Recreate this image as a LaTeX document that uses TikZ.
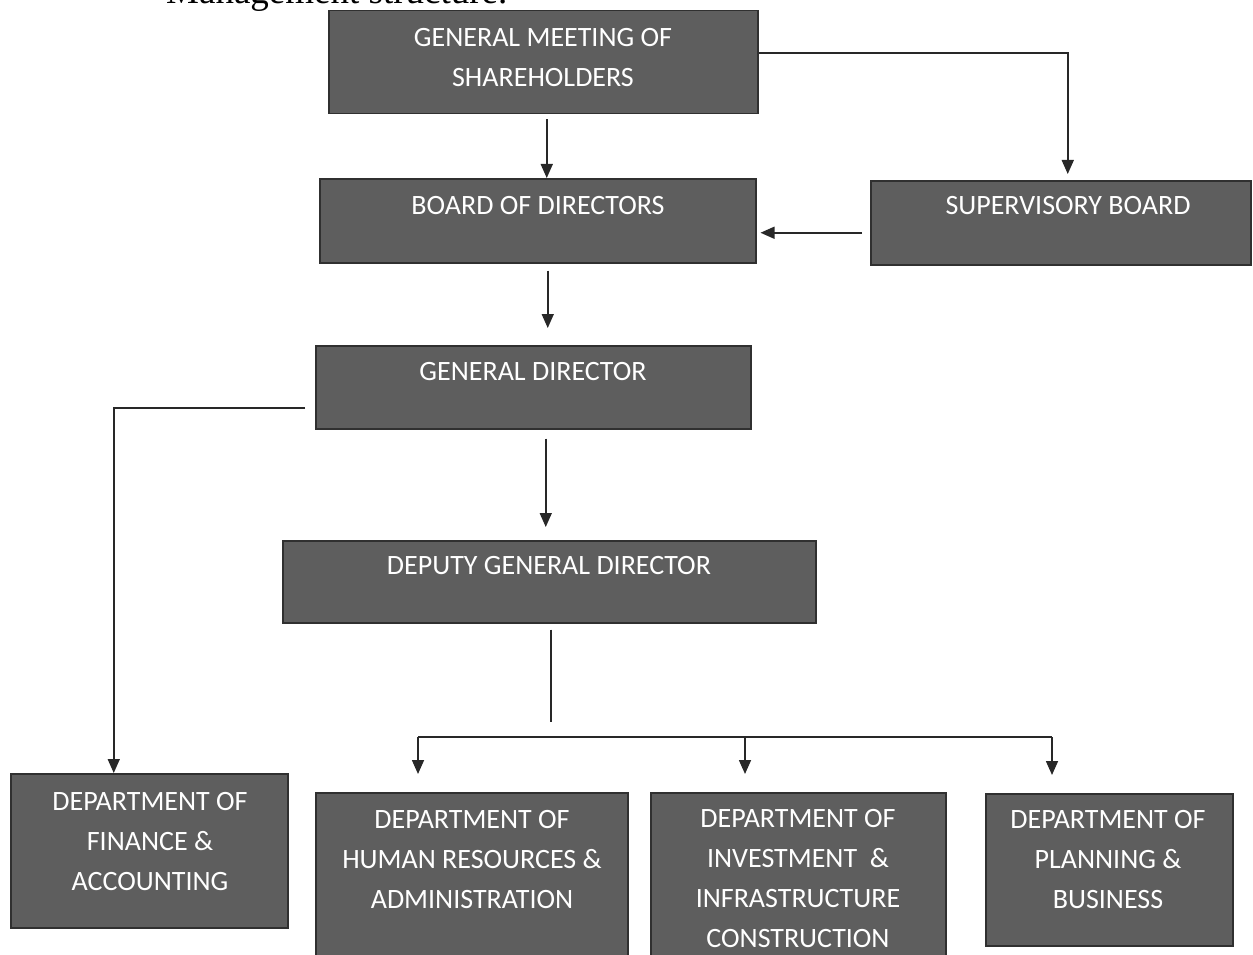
\documentclass[tikz,border=0pt]{standalone}
\usepackage{fontspec}
\setmainfont{Carlito}
\newfontfamily\titlefont{Liberation Serif}
\usetikzlibrary{arrows.meta,calc}
\definecolor{boxfill}{RGB}{94,94,94}
\definecolor{boxline}{RGB}{48,48,48}
\definecolor{lnc}{RGB}{40,40,40}
\begin{document}
\begin{tikzpicture}[x=1pt,y=-1pt,
  box/.style={draw=boxline,line width=1.5pt,fill=boxfill,inner sep=0pt,anchor=north west},
  txt/.style={text=white,font=\fontsize{28}{40}\selectfont,align=center,inner sep=0pt},
  ln/.style={draw=lnc,line width=1.6pt},
  arr/.style={ln,-{Triangle[width=12pt,length=14pt]}}]
\useasboundingbox[fill=white] (0,0) rectangle (1253,955);
% title (cut at the top edge)
\begin{scope}
\clip (0,0) rectangle (1253,955);
\node[anchor=base west,font=\titlefont\fontsize{37}{42}\selectfont,inner sep=0pt] (title) at (166,4) {Management structure.};
% boxes
\node[box,minimum width=429pt,minimum height=103pt] (gms) at (328,10) {};
\node[box,minimum width=380pt,minimum height=84pt] (sb) at (870,180) {};
\node[box,minimum width=436pt,minimum height=84pt] (bod) at (319,178) {};
\node[box,minimum width=435pt,minimum height=83pt] (gd) at (315,345) {};
\node[box,minimum width=533pt,minimum height=82pt] (dgd) at (282,540) {};
\node[box,minimum width=277pt,minimum height=154pt] (fin) at (10,773) {};
\node[box,minimum width=312pt,minimum height=170pt] (hr) at (315,792) {};
\node[box,minimum width=295pt,minimum height=170pt] (inv) at (650,792) {};
\node[box,minimum width=247pt,minimum height=152pt] (plan) at (985,793) {};
% texts
\node[txt] (gmst) at (543,57.5) {GENERAL MEETING OF\\SHAREHOLDERS};
\node[txt] (sbt) at (1068,206) {SUPERVISORY BOARD};
\node[txt] (bodt) at (538,206) {BOARD OF DIRECTORS};
\node[txt] (gdt) at (533,372) {GENERAL DIRECTOR};
\node[txt] (dgdt) at (549,566) {DEPUTY GENERAL DIRECTOR};
\node[txt] (fint) at (150,842) {DEPARTMENT OF\\FINANCE \&\\ACCOUNTING};
\node[txt] (hrt) at (472,860) {DEPARTMENT OF\\HUMAN RESOURCES \&\\ADMINISTRATION};
\node[txt] (invt) at (798,879) {DEPARTMENT OF\\INVESTMENT\ \ \&\\INFRASTRUCTURE\\CONSTRUCTION};
\node[txt] (plant) at (1108,860) {DEPARTMENT OF\\PLANNING \&\\BUSINESS};
\end{scope}
% connectors
\draw[arr] ([xshift=3.5pt,yshift=-5pt]gms.south) -- ([xshift=9pt]bod.north);
\draw[arr,shorten >=6pt] ([yshift=9.5pt]gms.east) -| ([xshift=7pt]sb.north);
\draw[arr] ([xshift=-8pt,yshift=-10pt]sb.west) -- ([xshift=4pt,yshift=-12pt]bod.east);
\draw[arr] ([xshift=10pt,yshift=-7pt]bod.south) -- ([xshift=14.5pt,yshift=17pt]gd.north);
\draw[arr] ([xshift=12.5pt,yshift=-9pt]gd.south) -- ([xshift=-3.5pt,yshift=13pt]dgd.north);
\draw[arr] ([xshift=-10pt,yshift=-20.5pt]gd.west) -| ([xshift=-35.5pt]fin.north);
\coordinate (busL) at (418,737);
\coordinate (busM) at (745,737);
\coordinate (busR) at (1052,737);
\draw[ln] ([xshift=1.5pt,yshift=-6pt]dgd.south) -- ++(0,92);
\draw[ln] (busL) -- (busR);
\draw[arr,shorten >=18pt] (busL) -- (busL |- hr.north);
\draw[arr,shorten >=18pt] (busM) -- (busM |- inv.north);
\draw[arr,shorten >=18pt] (busR) -- (busR |- plan.north);
\end{tikzpicture}
\end{document}
